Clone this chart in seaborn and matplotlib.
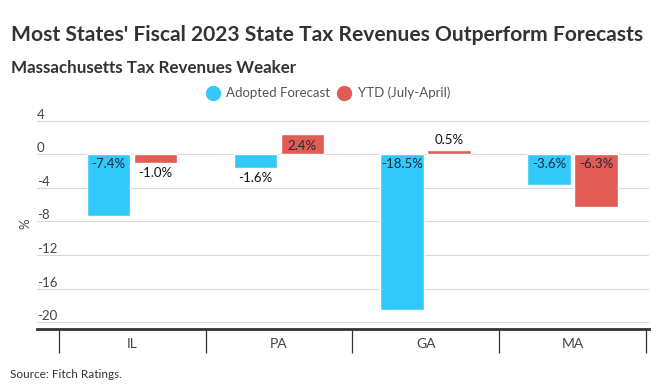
import pandas as pd
import matplotlib.pyplot as plt
import seaborn as sns
from matplotlib.lines import Line2D

# ===== data =====
states = ["IL", "PA", "GA", "MA"]
adopted_forecast = [-7.4, -1.6, -18.5, -3.6]
ytd_july_april = [-1.0, 2.4, 0.5, -6.3]
series_names = ["Adopted Forecast", "YTD (July-April)"]
y_ticks = [4, 0, -4, -8, -12, -16, -20]

colors = ["#33C8FA", "#E25B55"]

df = pd.DataFrame({
    "State": states * 2,
    "Series": [series_names[0]] * 4 + [series_names[1]] * 4,
    "Value": adopted_forecast + ytd_july_april,
})

sns.set_theme(style="white")
plt.rcParams["font.family"] = ["Lato", "DejaVu Sans"]

fig = plt.figure(figsize=(6.6, 3.89), dpi=100)
ax = fig.add_axes([0.0556, 0.1535, 0.9277, 0.5406])

sns.barplot(data=df, x="State", y="Value", hue="Series", order=states,
            hue_order=series_names, palette=colors, width=0.64, gap=0.07,
            saturation=1, legend=False, ax=ax, zorder=3)

ax.set_xlim(-0.65, 3.52)
ax.set_ylim(-20.83, 4.2)

# grid lines + y labels sitting on top of them
ax.set_yticks(y_ticks)
ax.set_yticklabels([str(t) for t in y_ticks])
ax.yaxis.grid(True, color="#d9d9d9", linewidth=0.8, zorder=0)
ax.tick_params(axis="y", length=0, pad=0, labelsize=9.5, labelcolor="#444444")
for lbl in ax.get_yticklabels():
    lbl.set_horizontalalignment("left")
    lbl.set_verticalalignment("bottom")
ax.set_ylabel("%", fontsize=9.5, color="#444444", labelpad=4)

# category axis with divider ticks
ax.set_xlabel("")
ax.set_xticks(range(len(states)))
ax.set_xticklabels(states)
ax.set_xticks([i - 0.5 for i in range(len(states) + 1)], minor=True)
ax.tick_params(axis="x", which="major", length=0, pad=6, labelsize=10,
               labelcolor="#444444")
ax.tick_params(axis="x", which="minor", length=17.5, width=0.9,
               color="#333333", direction="out", bottom=True)

for s in ["top", "right", "left"]:
    ax.spines[s].set_visible(False)
ax.spines["bottom"].set_color("#333333")
ax.spines["bottom"].set_linewidth(2.0)

# value labels: inside the bar when it fits, otherwise past its end
for cont in ax.containers:
    for bar in cont:
        h = bar.get_height()
        x = bar.get_x() + bar.get_width() / 2
        if abs(h) >= 2.0:
            y, off = 0, (-3 if h < 0 else 2)
            col = "#1b2a3a"
        else:
            y, off = h, (-3 if h < 0 else 3)
            col = "#111111"
        ax.annotate(f"{h:.1f}%", (x, y), xytext=(0, off), textcoords="offset points",
                    ha="center", va="top" if h < 0 else "bottom",
                    fontsize=9.5, color=col, zorder=5)

# legend
handles = [Line2D([], [], marker="o", linestyle="", markersize=10,
                  markerfacecolor=c, markeredgecolor=c) for c in colors]
fig.legend(handles, series_names, loc="center", bbox_to_anchor=(0.497, 1 - 93 / 389),
           ncol=2, frameon=False, fontsize=9.5, handletextpad=0.5,
           columnspacing=0.6, labelcolor="#555555", handlelength=1.0)

# titles, sized to the width they take in the reference
def fit_text(y_px, s, size, width_px, **kw):
    t = fig.text(11 / 660, 1 - y_px / 389, s, fontsize=size, fontweight="bold",
                 color="#333333", va="baseline", ha="left", **kw)
    r = fig.canvas.get_renderer()
    w = t.get_window_extent(renderer=r).width
    t.set_fontsize(size * width_px / w)
    return t

fit_text(40.7, "Most States' Fiscal 2023 State Tax Revenues Outperform Forecasts", 17, 633)
fit_text(73.3, "Massachusetts Tax Revenues Weaker", 13.4, 288)
fig.text(10 / 660, 1 - 375 / 389, "Source: Fitch Ratings.", fontsize=8.5,
         color="#333333", va="center", ha="left")

fig.savefig("out.png", dpi=100)
